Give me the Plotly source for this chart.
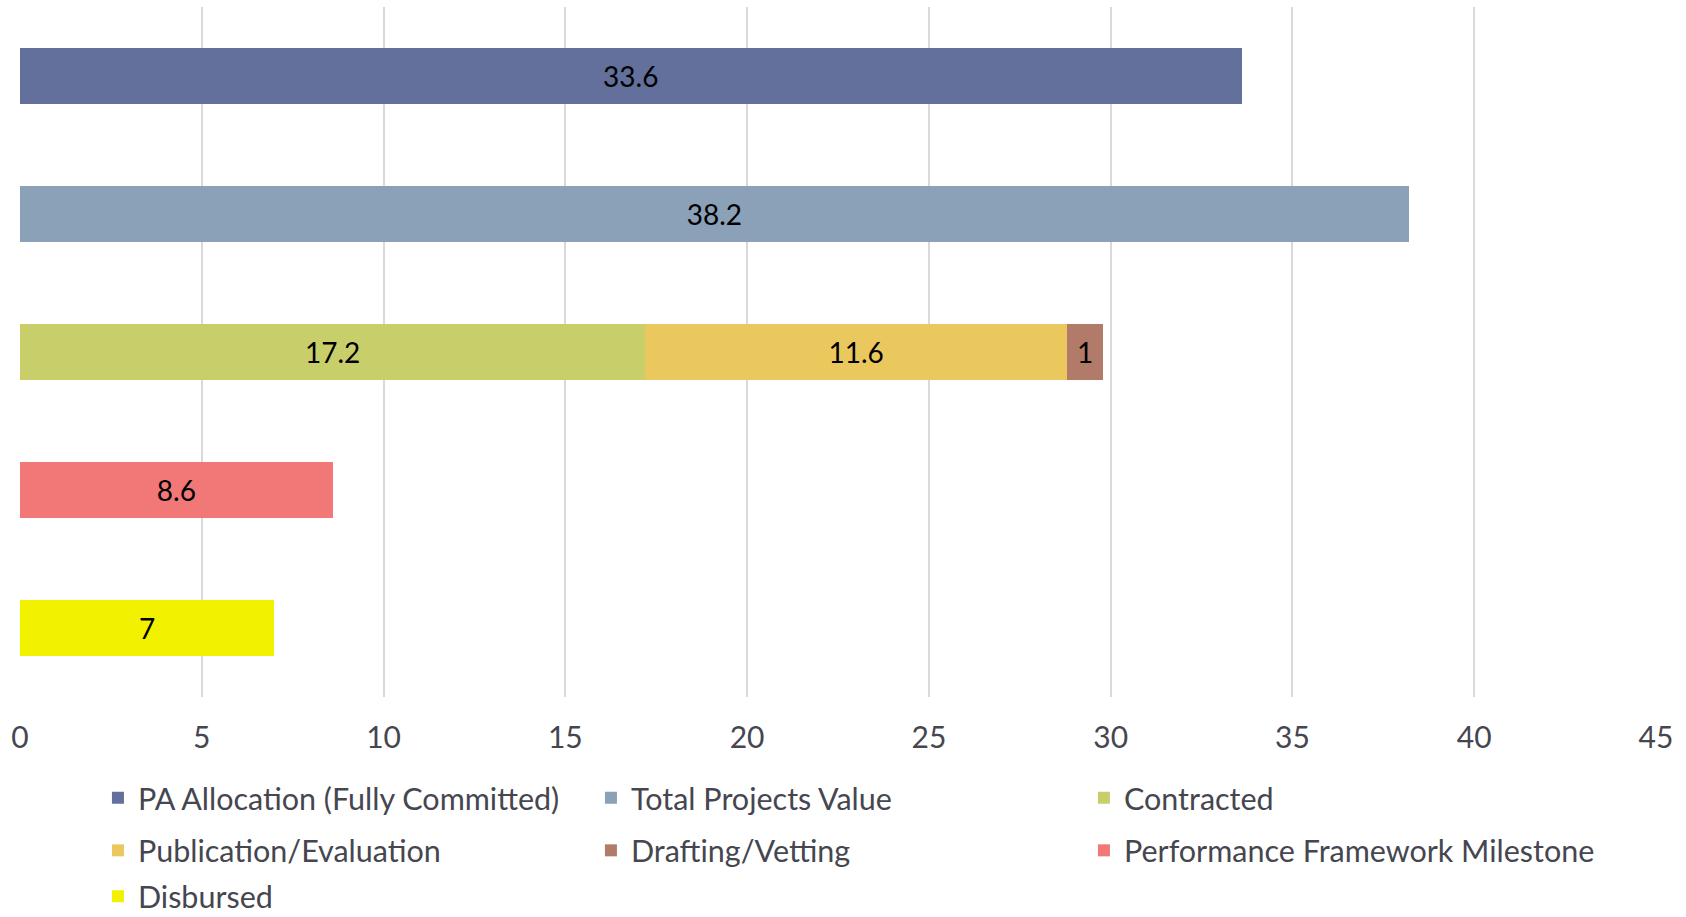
import plotly.graph_objects as go

categories = ["PA Allocation", "Total Projects", "Procurement Status", "Milestone", "Disbursed"]

series_names = [
    "PA Allocation (Fully Committed)",
    "Total Projects Value",
    "Contracted",
    "Publication/Evaluation",
    "Drafting/Vetting",
    "Performance Framework Milestone",
    "Disbursed",
]
series_category = ["PA Allocation", "Total Projects", "Procurement Status", "Procurement Status",
                   "Procurement Status", "Milestone", "Disbursed"]
series_values = [33.6, 38.2, 17.2, 11.6, 1, 8.6, 7]
series_colors = ["#63709b", "#8aa1b8", "#c8cf6a", "#ebc85e", "#b27b69", "#f27777", "#f2f200"]

x_ticks = [0, 5, 10, 15, 20, 25, 30, 35, 40, 45]

# legend grid: 3 columns, rows filled left to right (container fractions)
legend_cols = [0.0581, 0.3505, 0.6429]
legend_rows_y = [0.1298, 0.0725, 0.0225]

FONT = "Lato"
TXT = "#45464f"

fig = go.Figure()
legend_layout = {}
for i, (name, cat, val, col) in enumerate(zip(series_names, series_category, series_values, series_colors)):
    key = "legend" if i == 0 else f"legend{i + 1}"
    fig.add_trace(go.Bar(
        name=name, y=[cat], x=[val], orientation="h",
        marker=dict(color=col, line=dict(width=0)),
        text=[f"{val:g}"], textposition="inside", insidetextanchor="middle",
        textfont=dict(family=FONT, size=28, color="#000000"),
        constraintext="none",
        legend=key,
    ))
    legend_layout[key] = dict(
        orientation="h", xref="container", yref="container",
        x=legend_cols[i % 3], y=legend_rows_y[i // 3],
        xanchor="left", yanchor="middle",
        font=dict(family=FONT, size=30.5, color=TXT),
        bgcolor="rgba(0,0,0,0)", borderwidth=0, itemwidth=30,
    )

fig.update_layout(
    width=1686, height=917,
    margin=dict(l=20, r=30, t=7, b=220, autoexpand=False),
    paper_bgcolor="white", plot_bgcolor="white",
    barmode="stack", bargap=0.594,
    showlegend=True,
    xaxis=dict(range=[0, 45], tickvals=x_ticks, showgrid=True, gridcolor="#d9d9d9", gridwidth=1.5,
               zeroline=False, showline=False, ticks="", ticklabelstandoff=20,
               tickfont=dict(family=FONT, size=30, color=TXT)),
    yaxis=dict(categoryorder="array", categoryarray=categories[::-1], showticklabels=False,
               showgrid=False, zeroline=False, showline=False, ticks=""),
    **legend_layout,
)

fig.write_html("out.html", config={"displayModeBar": False})

with open("out.html", "r", encoding="utf-8") as f:
    html = f.read()
html = html.replace("<body>", '<body style="margin:0;overflow:hidden">', 1)
with open("out.html", "w", encoding="utf-8") as f:
    f.write(html)
